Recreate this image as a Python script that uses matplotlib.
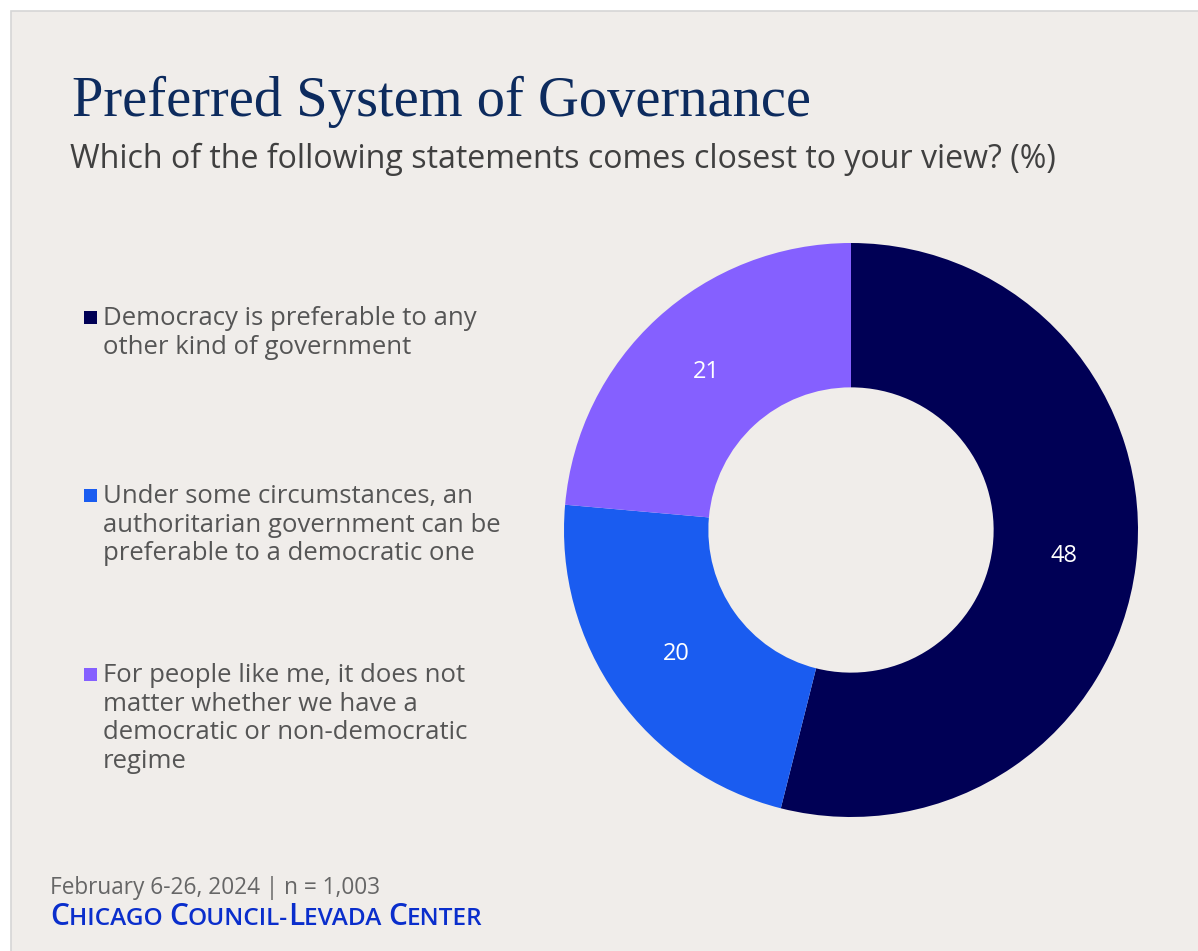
import matplotlib
matplotlib.use("Agg")
import matplotlib.pyplot as plt
from matplotlib.patches import Rectangle

# data
categories = [
    "Democracy is preferable to any\nother kind of government",
    "Under some circumstances, an\nauthoritarian government can be\npreferable to a democratic one",
    "For people like me, it does not\nmatter whether we have a\ndemocratic or non-democratic\nregime",
]
values = [48, 20, 21]
colors = ["#000055", "#1a5cf0", "#8560ff"]

title = "Preferred System of Governance"
subtitle = "Which of the following statements comes closest to your view? (%)"
note = "February 6-26, 2024 | n = 1,003"
source_parts = [("C", True), ("HICAGO ", False), ("C", True), ("OUNCIL-", False),
                ("L", True), ("EVADA ", False), ("C", True), ("ENTER", False)]

W, H = 1198, 951
BG = "#f0edea"
SANS = ["Open Sans", "DejaVu Sans"]

fig = plt.figure(figsize=(W / 100, H / 100), dpi=100, facecolor="white")
fig.patches.append(Rectangle((11 / W, -0.05), 1.1, (H - 11) / H + 0.05, transform=fig.transFigure,
                             facecolor=BG, edgecolor="#d6d6d6", linewidth=1.2, zorder=-5))

def fx(px):
    return px / W

def fy(py):
    return 1 - py / H

fig.text(fx(72), fy(116), title, family="Liberation Serif", fontsize=40.7, color="#0d2b5e",
         va="baseline", ha="left")
fig.text(fx(70), fy(168), subtitle, family=SANS, fontsize=23.1, color="#404040",
         va="baseline", ha="left")

# legend
legend_baselines = [325, 503, 682]
line_h = 28.7
for label, col, y in zip(categories, colors, legend_baselines):
    fig.patches.append(Rectangle((fx(84), fy(y - 1.5)), 13 / W, 13 / H, transform=fig.transFigure,
                                 facecolor=col, edgecolor="none", zorder=1))
    for i, line in enumerate(label.split("\n")):
        fig.text(fx(103), fy(y + i * line_h), line, family=SANS, fontsize=18.5, color="#555555",
                 va="baseline", ha="left")

# donut
cx, cy, r = 851, 530, 287
ax = fig.add_axes([fx(cx - r), fy(cy + r), 2 * r / W, 2 * r / H])
total = sum(values)
wedges, _, autotexts = ax.pie(values, colors=colors, startangle=90, counterclock=False,
                              wedgeprops=dict(width=0.503, linewidth=0),
                              autopct=lambda p: f"{p * total / 100:.0f}", pctdistance=0.7485,
                              textprops=dict(color="white", fontsize=17, family=SANS))
ax.set_xlim(-1, 1)
ax.set_ylim(-1, 1)
ax.set_axis_off()

# footer
fig.text(fx(50), fy(894), note, family=SANS, fontsize=16.3, color="#666666", va="baseline", ha="left")

fig.canvas.draw()
renderer = fig.canvas.get_renderer()
x = 50
for txt, big in source_parts:
    t = fig.text(fx(x), fy(925), txt, family=SANS, fontsize=21.5 if big else 17.6,
                 color="#0a2ecc", va="baseline", ha="left", weight="semibold")
    bb = t.get_window_extent(renderer)
    x += bb.width

fig.savefig("out.png", dpi=100, facecolor=fig.get_facecolor())
